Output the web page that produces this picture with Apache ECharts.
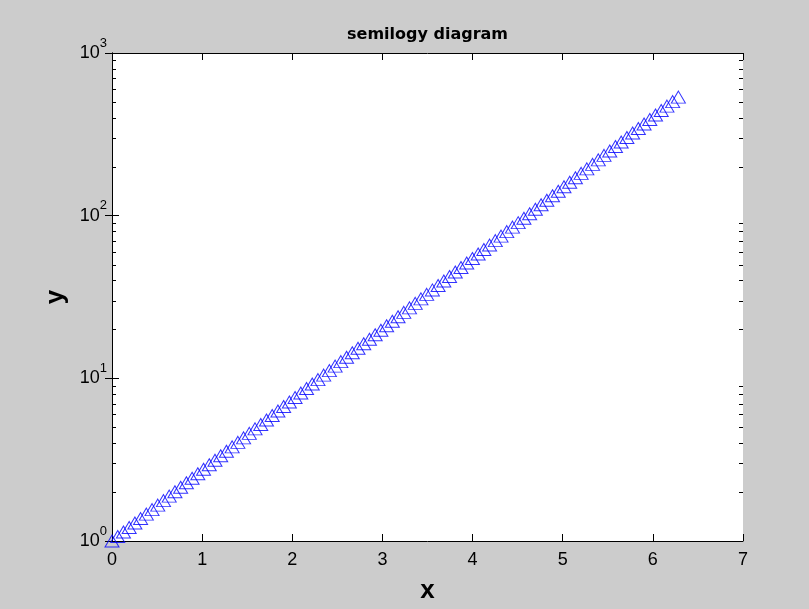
<!DOCTYPE html>
<html>
<head>
<meta charset="utf-8">
<script src="https://cdn.jsdelivr.net/npm/echarts@6/dist/echarts.min.js"></script>
<style>
html,body{margin:0;padding:0;background:#cccccc;overflow:hidden;}
#c{width:809px;height:609px;}
</style>
</head>
<body>
<div id="c"></div>
<script>
// x values (0 .. 2*pi, 100 points)
const xValues = [0,0.0635,0.1269,0.1904,0.2539,0.3173,0.3808,0.4443,0.5077,0.5712,
0.6347,0.6981,0.7616,0.8251,0.8885,0.9520,1.0155,1.0789,1.1424,1.2059,
1.2693,1.3328,1.3963,1.4597,1.5232,1.5867,1.6501,1.7136,1.7771,1.8405,
1.9040,1.9675,2.0309,2.0944,2.1579,2.2213,2.2848,2.3483,2.4117,2.4752,
2.5387,2.6021,2.6656,2.7291,2.7925,2.8560,2.9195,2.9829,3.0464,3.1099,
3.1733,3.2368,3.3003,3.3637,3.4272,3.4907,3.5541,3.6176,3.6811,3.7445,
3.8080,3.8715,3.9349,3.9984,4.0619,4.1253,4.1888,4.2523,4.3157,4.3792,
4.4427,4.5061,4.5696,4.6331,4.6965,4.7600,4.8235,4.8869,4.9504,5.0139,
5.0773,5.1408,5.2043,5.2677,5.3312,5.3947,5.4581,5.5216,5.5851,5.6485,
5.7120,5.7755,5.8389,5.9024,5.9659,6.0293,6.0928,6.1563,6.2197,6.2832];
// y values
const yValues = [1,1.0655,1.1353,1.2097,1.2890,1.3734,1.4634,1.5594,1.6615,1.7704,
1.8865,2.0101,2.1418,2.2821,2.4317,2.5909,2.7607,2.9416,3.1343,3.3397,
3.5584,3.7915,4.0400,4.3047,4.5867,4.8876,5.2078,5.5491,5.9127,6.3001,
6.7127,7.1525,7.6212,8.1206,8.6527,9.2193,9.8234,10.467,11.153,11.884,
12.663,13.493,14.377,15.319,16.323,17.392,18.532,19.746,21.040,22.418,
23.886,25.451,27.119,28.896,30.789,32.809,34.959,37.250,39.690,42.291,
45.060,48.013,51.159,54.511,58.083,61.886,65.941,70.262,74.866,79.771,
85.004,90.574,96.509,102.83,109.57,116.75,124.40,132.55,141.23,150.49,
160.34,170.85,182.04,193.97,206.68,220.24,234.67,250.04,266.43,283.88,
302.48,322.30,343.41,365.92,389.89,415.42,442.64,471.65,502.55,535.49];
const xTicks = [0,1,2,3,4,5,6,7];
const yMajorTicks = [1,10,100,1000];
const yMinorTicks = [2,3,4,5,6,7,8,9,20,30,40,50,60,70,80,90,200,300,400,500,600,700,800,900];
const titleText = 'semilogy diagram';
const xName = 'x';
const yName = 'y';

const chart = echarts.init(document.getElementById('c'), null, {renderer:'canvas', width:809, height:609});
const axisLine = {show:true, lineStyle:{color:'#000', width:1}};
const labelFont = 'Liberation Sans, Arial, sans-serif';

function supLabel(v){
  const e = Math.round(Math.log10(v));
  return '{b|10}{s|' + e + '}';
}

const option = {
  backgroundColor:'#cccccc',
  animation:false,
  title:{
    text:titleText, left:342, top:22,
    textStyle:{fontFamily:'DejaVu Sans', fontWeight:'bold', fontSize:16, color:'#000'}
  },
  grid:{left:112, right:66, top:53, bottom:58, show:true, backgroundColor:'#ffffff', borderWidth:0},
  xAxis:[{
    type:'value', min:xTicks[0], max:xTicks[xTicks.length-1], interval:1, position:'bottom',
    axisLine:axisLine,
    axisTick:{show:true, inside:true, length:7, lineStyle:{color:'#000'}},
    axisLabel:{show:true, margin:10, color:'#000', fontSize:18, fontFamily:labelFont},
    splitLine:{show:false},
    name:xName, nameLocation:'middle', nameGap:37,
    nameTextStyle:{fontFamily:'Liberation Sans, Arial', fontWeight:'bold', fontSize:26, color:'#000'}
  },{
    type:'value', min:xTicks[0], max:xTicks[xTicks.length-1], interval:1, position:'top',
    axisLine:axisLine,
    axisTick:{show:true, inside:true, length:7, lineStyle:{color:'#000'}},
    axisLabel:{show:false}, splitLine:{show:false}
  }],
  yAxis:[{
    type:'log', logBase:10, min:yMajorTicks[0], max:yMajorTicks[yMajorTicks.length-1], position:'left',
    axisLine:axisLine,
    axisTick:{show:true, inside:true, length:7, lineStyle:{color:'#000'}},
    axisLabel:{show:true, margin:5, color:'#000', formatter:supLabel,
      rich:{
        b:{fontSize:18, lineHeight:18, fontFamily:labelFont, color:'#000', verticalAlign:'middle'},
        s:{fontSize:13, lineHeight:13, fontFamily:labelFont, color:'#000', verticalAlign:'middle', padding:[0,0,20,0]}
      }},
    splitLine:{show:false},
    name:yName, nameLocation:'middle', nameGap:43,
    nameTextStyle:{fontFamily:'Liberation Sans, Arial', fontWeight:'bold', fontSize:26, color:'#000'}
  },{
    type:'log', logBase:10, min:yMajorTicks[0], max:yMajorTicks[yMajorTicks.length-1], position:'right',
    axisLine:axisLine,
    axisTick:{show:true, inside:true, length:7, lineStyle:{color:'#000'}},
    axisLabel:{show:false}, splitLine:{show:false}
  }],
  series:[{
    type:'scatter',
    data:xValues.map((x,i)=>[x,yValues[i]]),
    symbol:'triangle', symbolSize:[14,12],
    itemStyle:{color:'rgba(0,0,0,0)', borderColor:'#0000ff', borderWidth:1},
    silent:true, z:3
  },{
    type:'custom',
    silent:true, z:2,
    data:yMinorTicks.map(v=>[xTicks[0], v]),
    renderItem:function(params, api){
      const pt = api.coord([api.value(0), api.value(1)]);
      const cs = params.coordSys;
      const y = Math.round(pt[1]) + 0.5;
      return {type:'group', children:[
        {type:'line', shape:{x1:cs.x, y1:y, x2:cs.x+4, y2:y}, style:{stroke:'#000', lineWidth:1}},
        {type:'line', shape:{x1:cs.x+cs.width-4, y1:y, x2:cs.x+cs.width, y2:y}, style:{stroke:'#000', lineWidth:1}}
      ]};
    }
  }]
};
chart.setOption(option);
</script>
</body>
</html>
